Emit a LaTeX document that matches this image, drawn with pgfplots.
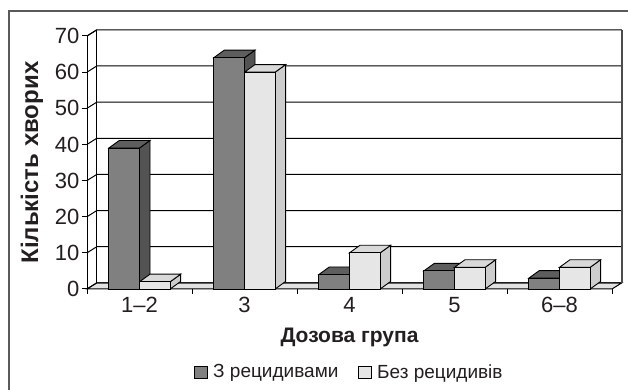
\documentclass[border=0pt]{standalone}
\usepackage{fontspec}
\setmainfont{Liberation Sans}
\usepackage{pgfplots}
\usepackage{pgfplotstable}
\pgfplotsset{compat=1.18}

\definecolor{darkfront}{HTML}{808080}
\definecolor{darktop}{HTML}{5E5E5E}
\definecolor{darkside}{HTML}{535353}
\definecolor{lightfront}{HTML}{E6E6E6}
\definecolor{lighttop}{HTML}{D9D9D9}
\definecolor{lightside}{HTML}{CDCDCD}
\definecolor{floorc}{HTML}{E2E2E2}
\definecolor{framec}{HTML}{5A5A5A}
\definecolor{txt}{HTML}{231F20}

% x = category centre; a = with relapses; b = without relapses
\pgfplotstableread{
x   a   b
0.5 39  2
1.5 64  60
2.5 4   10
3.5 5   6
4.5 3   6
}\datatable

\newcommand\bw{0.292}
\newcommand\dxb{0.1}
\newcommand\dyb{2.1}
\newcommand\dxw{0.093}
\newcommand\dyw{1.7}

\newcommand\gridline[1]{%
  \pgfmathsetmacro\glya{#1+\dyw}%
  \pgfmathsetmacro\glxb{5+\dxw}%
  \edef\gltmp{\noexpand\addplot[black, line width=1pt, forget plot] coordinates {(0,#1) (\dxw,\glya) (\glxb,\glya)};}%
  \gltmp
}

\newcommand\barfaces[4]{%
  \pgfmathsetmacro\bfxr{#1+\bw}%
  \pgfmathsetmacro\bfxrb{#1+\bw+\dxb}%
  \pgfmathsetmacro\bfxlb{#1+\dxb}%
  \pgfmathsetmacro\bfvb{#2+\dyb}%
  \edef\bftmp{\noexpand\addplot[fill=#3, draw=black, line width=0.9pt, forget plot] coordinates {(\bfxr,0) (\bfxrb,\dyb) (\bfxrb,\bfvb) (\bfxr,#2)} --cycle;}%
  \bftmp
  \edef\bftmp{\noexpand\addplot[fill=#4, draw=black, line width=0.9pt, forget plot] coordinates {(#1,#2) (\bfxr,#2) (\bfxrb,\bfvb) (\bfxlb,\bfvb)} --cycle;}%
  \bftmp
}

\begin{document}
\begin{tikzpicture}
\useasboundingbox (0pt,0pt) rectangle (628pt,390pt);
\clip (0pt,0pt) rectangle (628pt,390pt);
\fill[white] (0pt,0pt) rectangle (628pt,390pt);
\draw[framec, line width=1.4pt] (9pt,379pt) rectangle (660pt,-20pt);
\begin{axis}[
  at={(87pt,101pt)}, anchor=south west,
  scale only axis, width=525pt, height=253pt,
  xmin=0, xmax=5, ymin=0, ymax=70,
  clip=false,
  axis x line=bottom, axis y line=left,
  axis line style={-, line width=1pt, black},
  tick align=outside,
  major tick length=5pt,
  tick style={black, line width=1pt},
  xtick={0,...,5},
  x tick label as interval,
  xticklabels={1–2,3,4,5,6–8},
  ytick={0,10,...,70},
  /pgf/number format/assume math mode=true,
  ticklabel style={font=\fontsize{22}{22}\selectfont, text=txt},
  yticklabel style={xshift=1pt},
  xlabel={Дозова група},
  ylabel={Кількість хворих},
  xlabel style={font=\bfseries\fontsize{21}{21}\selectfont, text=txt, at={(axis description cs:0.5,-0.19)}, anchor=center},
  ylabel style={font=\bfseries\fontsize{24}{24}\selectfont, text=txt, at={(axis description cs:-0.105,0.5)}, anchor=center},
  legend columns=2,
  legend style={draw=none, fill=none, at={(axis description cs:0.5,-0.328)}, anchor=center,
    font=\fontsize{19}{19}\selectfont, text=txt,
    /tikz/every odd column/.append style={column sep=3pt},
    /tikz/every even column/.append style={column sep=18pt}},
  legend image code/.code={\draw[#1, line width=0.8pt] (0pt,-6pt) rectangle (13pt,6pt);},
]
% floor
\addplot[fill=floorc, draw=black, line width=1pt, forget plot] coordinates {(0,0) (5,0) (5.093,1.7) (0.093,1.7)} --cycle;
% back wall gridlines and edges
\pgfplotsinvokeforeach{0,10,20,30,40,50,60,70}{\gridline{#1}}
\addplot[black, line width=1pt, forget plot] coordinates {(0.093,1.7) (0.093,71.7)};
\addplot[black!70, line width=1.8pt, forget plot] coordinates {(5.093,1.7) (5.093,71.7)};
\addplot[black, line width=1pt, forget plot] coordinates {(0,70) (0.093,71.7)};

% 3D faces of bars
\pgfplotsinvokeforeach{0,...,4}{%
  \pgfplotstablegetelem{#1}{x}\of\datatable \let\cx\pgfplotsretval
  \pgfplotstablegetelem{#1}{a}\of\datatable \let\va\pgfplotsretval
  \pgfplotstablegetelem{#1}{b}\of\datatable \let\vb\pgfplotsretval
  \pgfmathsetmacro\xl{\cx-\bw}%
  \barfaces{\xl}{\va}{darkside}{darktop}%
  \barfaces{\cx}{\vb}{lightside}{lighttop}%
}
% front faces
\addplot[ybar, bar width=\bw, bar shift=-0.146, fill=darkfront, draw=black, line width=0.9pt, forget plot] table[x=x, y=a] {\datatable};
\addplot[ybar, bar width=\bw, bar shift=0.146, fill=lightfront, draw=black, line width=0.9pt, forget plot] table[x=x, y=b] {\datatable};

\addlegendimage{fill=darkfront, draw=black}
\addlegendentry{З рецидивами}
\addlegendimage{fill=lightfront, draw=black}
\addlegendentry{Без рецидивів}
\end{axis}
\end{tikzpicture}
\end{document}
